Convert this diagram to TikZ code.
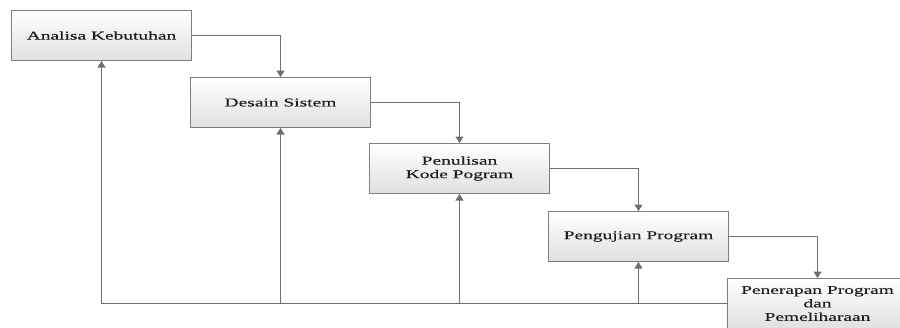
\documentclass[tikz,border=0pt]{standalone}
\usepackage{fontspec}
\newfontfamily\boxfont[FakeStretch=1.62,FakeBold=0.25]{Liberation Serif}
\usetikzlibrary{arrows.meta}
\definecolor{linegray}{HTML}{6E6E6E}
\definecolor{boxborder}{HTML}{7E7E7E}
\definecolor{txt}{HTML}{1E1E1E}
\tikzset{
  stage/.style={draw=boxborder, line width=1pt, top color=white, bottom color=black!12,
    minimum width=180pt, minimum height=50pt, inner sep=0pt, align=center,
    text=txt, font=\boxfont\fontsize{12}{13.5}\selectfont},
  flow/.style={draw=linegray, line width=1.1pt, -{Triangle[width=8pt,length=6.5pt]}},
}
\begin{document}
\begin{tikzpicture}[x=1pt,y=-1pt]
\useasboundingbox (0,0) rectangle (900,327);
\clip (0,0) rectangle (900,327);
\fill[white] (0,0) rectangle (900,327);
\node[stage] (b1) at (101.5,35.5) {Analisa Kebutuhan};
\node[stage] (b2) at (280.5,102.5) {Desain Sistem};
\node[stage] (b3) at (459.5,168.5) {Penulisan\\Kode Pogram};
\node[stage] (b4) at (638.5,236.5) {Pengujian Program};
\node[stage] (b5) at (817.5,303.5) {Penerapan Program\\dan\\Pemeliharaan};
% forward arrows
\draw[flow] (b1.east) -| (b2.north);
\draw[flow] (b2.east) -| (b3.north);
\draw[flow] (b3.east) -| (b4.north);
\draw[flow] (b4.east) -| (b5.north);
% feedback
\draw[flow] (b5.west) -| (b1.south);
\draw[flow] (b5.west -| b2.south) -- (b2.south);
\draw[flow] (b5.west -| b3.south) -- (b3.south);
\draw[flow] (b5.west -| b4.south) -- (b4.south);
\end{tikzpicture}
\end{document}
